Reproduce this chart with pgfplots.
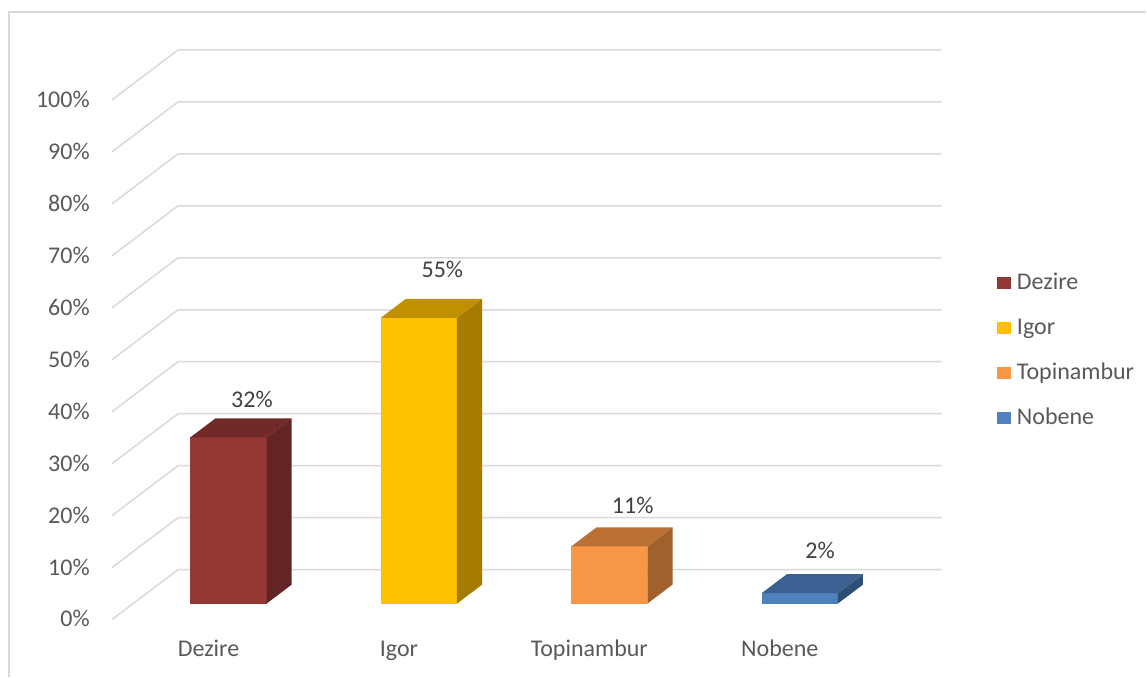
\documentclass[border=0pt]{standalone}
\usepackage{fontspec}
\setmainfont{Carlito}
\usepackage{pgfplots}
\pgfplotsset{compat=1.18}

\definecolor{dezF}{HTML}{953735}\definecolor{dezS}{HTML}{632523}\definecolor{dezT}{HTML}{722A28}
\definecolor{igF}{HTML}{FFC000}\definecolor{igS}{HTML}{A67C00}\definecolor{igT}{HTML}{C09000}
\definecolor{topF}{HTML}{F79646}\definecolor{topS}{HTML}{A0612D}\definecolor{topT}{HTML}{BB7036}
\definecolor{nobF}{HTML}{4F81BD}\definecolor{nobS}{HTML}{2E4F75}\definecolor{nobT}{HTML}{3A6192}
\definecolor{gridc}{HTML}{D9D9D9}
\definecolor{tickc}{HTML}{595959}
\definecolor{labc}{HTML}{404040}

\begin{document}
\begin{tikzpicture}
\begin{axis}[
    scale only axis, width=573.5pt, height=338.5pt,
    xmin=-1.2, xmax=4.82, ymin=-14.04, ymax=116.15,
    hide axis, clip=false,
    legend image code/.code={\fill[#1] (0pt,-3pt) rectangle (7pt,3pt);},
    legend cell align=left,
    legend style={at={(axis cs:4.034,63.85)}, anchor=north west, draw=none, fill=none,
        font=\fontsize{12}{14}\selectfont, text=tickc, inner sep=0pt, row sep=12pt,
        column sep=3pt, nodes={inner sep=0pt, text height=8.5pt, text depth=2pt}},
]
% whole chart area
\path (axis cs:-1.2,-14.04) rectangle (axis cs:4.82,116.15);
% frame
\draw[gridc, line width=0.75pt] (axis cs:-1.152,-14.04) -- (axis cs:-1.152,113.85) -- (axis cs:4.82,113.85);
% back wall and left wall grid
\pgfplotsinvokeforeach{0,10,...,100}{
  \draw[gridc, line width=0.75pt] (axis cs:-0.612,{#1-3.08}) -- (axis cs:-0.265,{#1+6.54}) -- (axis cs:3.745,{#1+6.54});
  \node[anchor=base east, inner sep=0pt, text=tickc, font=\fontsize{12}{14}\selectfont] at (axis cs:-0.727,{#1-4.5}) {#1\%};
}

% front faces (legend)
\addplot[fill=dezF, draw=none] coordinates {(-0.2,0) (0.2,0) (0.2,32) (-0.2,32)} --cycle;
\addlegendentry{Dezire}
\addplot[fill=igF, draw=none] coordinates {(0.8,0) (1.2,0) (1.2,55) (0.8,55)} --cycle;
\addlegendentry{Igor}
\addplot[fill=topF, draw=none] coordinates {(1.8,0) (2.2,0) (2.2,11) (1.8,11)} --cycle;
\addlegendentry{Topinambur}
\addplot[fill=nobF, draw=none] coordinates {(2.8,0) (3.2,0) (3.2,2) (2.8,2)} --cycle;
\addlegendentry{Nobene}

% side faces
\addplot[fill=dezS, draw=none, forget plot] coordinates {(0.2,0) (0.332,3.65) (0.332,35.65) (0.2,32)} --cycle;
\addplot[fill=igS, draw=none, forget plot] coordinates {(1.2,0) (1.332,3.65) (1.332,58.65) (1.2,55)} --cycle;
\addplot[fill=topS, draw=none, forget plot] coordinates {(2.2,0) (2.332,3.65) (2.332,14.65) (2.2,11)} --cycle;
\addplot[fill=nobS, draw=none, forget plot] coordinates {(3.2,0) (3.332,3.65) (3.332,5.65) (3.2,2)} --cycle;

% top faces
\addplot[fill=dezT, draw=none, forget plot] coordinates {(-0.2,32) (0.2,32) (0.332,35.65) (-0.068,35.65)} --cycle;
\addplot[fill=igT, draw=none, forget plot] coordinates {(0.8,55) (1.2,55) (1.332,58.65) (0.932,58.65)} --cycle;
\addplot[fill=topT, draw=none, forget plot] coordinates {(1.8,11) (2.2,11) (2.332,14.65) (1.932,14.65)} --cycle;
\addplot[fill=nobT, draw=none, forget plot] coordinates {(2.8,2) (3.2,2) (3.332,5.65) (2.932,5.65)} --cycle;

% value labels
\begin{scope}[every node/.style={anchor=base, text=labc, font=\fontsize{12}{14}\selectfont}]
\node at (axis cs:0.123,37.7) {32\%};
\node at (axis cs:1.123,62.7) {55\%};
\node at (axis cs:2.123,17.3) {11\%};
\node at (axis cs:3.107,8.65) {2\%};
\end{scope}

% category labels
\begin{scope}[every node/.style={anchor=base, text=tickc, font=\fontsize{12}{14}\selectfont}]
\node at (axis cs:-0.105,-10.2) {Dezire};
\node at (axis cs:0.895,-10.2) {Igor};
\node at (axis cs:1.895,-10.2) {Topinambur};
\node at (axis cs:2.895,-10.2) {Nobene};
\end{scope}
\end{axis}
\end{tikzpicture}
\end{document}
